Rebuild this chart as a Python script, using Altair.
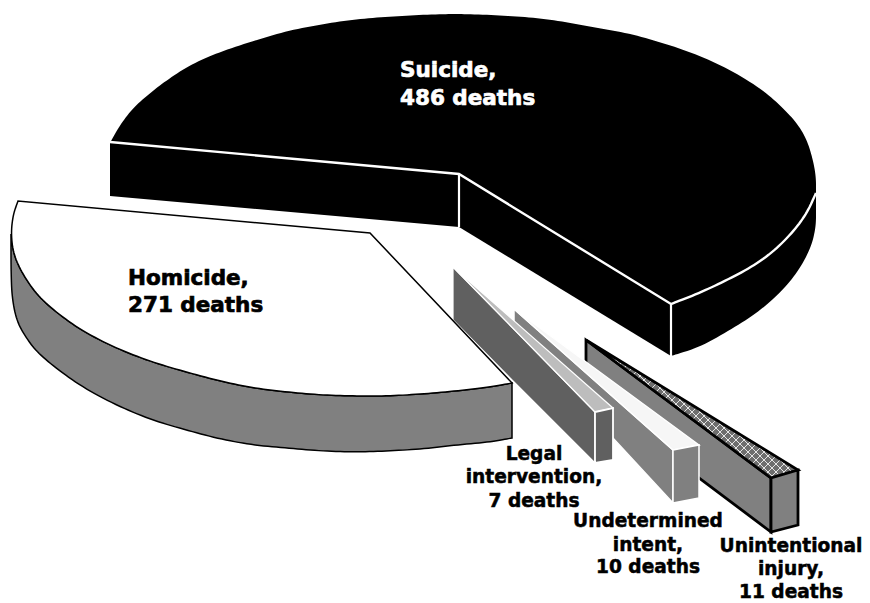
import altair as alt

# Values and labels
causes = ["Suicide", "Homicide", "Legal\nintervention", "Undetermined\nintent", "Unintentional\ninjury"]
deaths = [486, 271, 7, 10, 11]

# Outlines (image pixels)
suicide_rim = [(111,141),(120,125),(133,108),(150,93),(167,80),(190,65),(217,53),(250,42),(283,32),(317,25),(350,20),(383,17),(417,15),(450,14),(460,14),(493,15),(527,17),(560,21),(593,27),(627,33),(660,42),(693,53),(727,68),(760,88),(780,105),(797,123),(807,140),(813,160),(816,177),(816,193)]
suicide_rim_low = [(816,193),(807,213),(793,232),(773,252),(750,268),(723,282),(697,294),(671,304)]
suicide_base = [(816,177),(816,205),(816,228),(810,250),(797,273),(780,293),(757,313),(730,330),(700,347),(671,356)]
suicide_apex = (459,174)
suicide_apex_low = (459,227)
suicide_left = (110,142)
suicide_left_low = (110,196)

homicide_rim = [(18,201),(13,215),(11,234),(13.5,254),(22,273),(37,295),(57,313),(84,332),(118,349),(152,362),(186,372),(220,381),(253,388),(287,392),(321,395),(355,396),(388,396),(422,394),(456,391),(490,387),(512,383)]
homicide_base = [(11,234),(11,270),(12,298),(17,322),(27,339),(37,352),(57,369),(84,388),(118,406),(152,420),(186,430),(220,439),(253,445),(287,448),(321,451),(355,452),(388,451),(422,449),(456,445),(490,442),(512,438)]
homicide_apex = (370,233)

legal_side = [(453,267),(595,412),(595,463),(513,381),(453,320)]
legal_front = [(595,412),(613,408),(613,460),(595,463)]
legal_top = [(453,267),(613,408),(595,412)]

undet_side = [(514,309),(673,450),(673,503),(514,331)]
undet_front = [(673,450),(699,445),(699,498),(673,503)]
undet_top = [(514,309),(699,445),(673,450)]

unint_side = [(586,340),(771,478),(771,532),(586,393)]
unint_front = [(771,478),(798,470),(798,525),(771,532)]
unint_top = [(586,340),(798,470),(771,478)]

suicide_label_xy = (400, 77, 105)
homicide_label_xy = (128, 285, 312)
small_label_xy = [(534, [460, 483, 507]), (648, [527, 551, 573]), (791, [552, 575, 598])]

PROJ = dict(type="identity", scale=1, translate=[-8, -8])


def smooth(pts, n=3):
    pts = [tuple(p) for p in pts]
    for _ in range(n):
        out = [pts[0]]
        for a, b in zip(pts[:-1], pts[1:]):
            out.append((0.75*a[0]+0.25*b[0], 0.75*a[1]+0.25*b[1]))
            out.append((0.25*a[0]+0.75*b[0], 0.25*a[1]+0.75*b[1]))
        out.append(pts[-1])
        pts = out
    return pts


def poly(pts):
    pts = [list(p) for p in pts]
    if pts[0] != pts[-1]:
        pts = pts + [pts[0]]
    return {"type": "Feature", "properties": {}, "geometry": {"type": "Polygon", "coordinates": [pts]}}


def line(pts):
    return {"type": "Feature", "properties": {},
            "geometry": {"type": "LineString", "coordinates": [list(p) for p in pts]}}


def shape(feature, fill=None, stroke=None, sw=1.0):
    kw = {}
    if fill is None:
        kw["filled"] = False
        kw["fill"] = "transparent"
    else:
        kw["fill"] = fill
    if stroke:
        kw["stroke"] = stroke
        kw["strokeWidth"] = sw
    else:
        kw["strokeWidth"] = 0
    return alt.Chart(alt.Data(values=[feature])).mark_geoshape(strokeJoin="miter", **kw).project(**PROJ)


def clip(p0, p1, tri):
    # clip a segment to a convex triangle
    t0, t1 = 0.0, 1.0
    dx, dy = p1[0]-p0[0], p1[1]-p0[1]
    cx = sum(p[0] for p in tri)/3
    cy = sum(p[1] for p in tri)/3
    for i in range(3):
        a, b = tri[i], tri[(i+1) % 3]
        nx, ny = -(b[1]-a[1]), b[0]-a[0]
        if nx*(cx-a[0])+ny*(cy-a[1]) < 0:
            nx, ny = -nx, -ny
        f0 = nx*(p0[0]-a[0])+ny*(p0[1]-a[1])
        d = nx*dx+ny*dy
        if d == 0:
            if f0 < 0:
                return None
            continue
        t = -f0/d
        if d > 0:
            t0 = max(t0, t)
        else:
            t1 = min(t1, t)
    if t0 >= t1:
        return None
    return [(p0[0]+t0*dx, p0[1]+t0*dy), (p0[0]+t1*dx, p0[1]+t1*dy)]


hatch = []
for c in range(-1000, 2000, 8):
    for sgn in (1, -1):
        seg = clip((400, c-sgn*400), (900, c-sgn*900), unint_top)
        if seg:
            hatch.append([list(p) for p in seg])
hatch_f = {"type": "Feature", "properties": {}, "geometry": {"type": "MultiLineString", "coordinates": hatch}}

s_rim = smooth(suicide_rim)
s_low = smooth(suicide_rim_low)
s_base = smooth(suicide_base)
h_rim = smooth(homicide_rim)
h_base = smooth(homicide_base)
# the part of the homicide rim that lies above the outer wall
h_rim_wall = smooth(homicide_rim[2:])

layers = [
    # Suicide
    shape(poly([suicide_left]+s_rim+s_low+[suicide_apex]), fill="black"),
    shape(poly([suicide_left, suicide_apex, suicide_apex_low, suicide_left_low]), fill="black"),
    shape(poly([suicide_apex, suicide_rim_low[-1], suicide_base[-1], suicide_apex_low]), fill="black"),
    shape(poly(s_low+s_base[::-1]), fill="black"),
    shape(line([suicide_left, suicide_apex, suicide_rim_low[-1]]+s_low[::-1]), stroke="white", sw=2.4),
    shape(line([suicide_apex, suicide_apex_low]), stroke="white", sw=2.2),
    shape(line([suicide_rim_low[-1], suicide_base[-1]]), stroke="white", sw=2.2),
    # Unintentional injury
    shape(poly(unint_side), fill="#808080", stroke="black", sw=2.8),
    shape(poly(unint_top), fill="#6e6e6e"),
    shape(hatch_f, stroke="#e6e6e6", sw=1.0),
    shape(poly(unint_top), stroke="black", sw=2.8),
    shape(poly(unint_front), fill="#808080", stroke="black", sw=2.8),
    # Undetermined intent
    shape(poly(undet_side), fill="#808080", stroke="white", sw=1.5),
    shape(poly(undet_top), fill="#f6f6f6", stroke="white", sw=1.5),
    shape(poly(undet_front), fill="#808080", stroke="white", sw=1.5),
    # Legal intervention
    shape(poly(legal_side), fill="#606060", stroke="white", sw=1.2),
    shape(poly(legal_top), fill="#bdbdbd", stroke="white", sw=1.2),
    shape(poly(legal_front), fill="#606060", stroke="white", sw=1.8),
    # Homicide
    shape(poly(h_rim_wall+h_base[::-1]), fill="#808080", stroke="black", sw=1.5),
    shape(poly(h_rim+[homicide_apex]), fill="white", stroke="black", sw=1.5),
]

rows_big = [
    dict(x=suicide_label_xy[0], y=suicide_label_xy[1], t=f"{causes[0]},", c="white"),
    dict(x=suicide_label_xy[0], y=suicide_label_xy[2], t=f"{deaths[0]} deaths", c="white"),
    dict(x=homicide_label_xy[0], y=homicide_label_xy[1], t=f"{causes[1]},", c="black"),
    dict(x=homicide_label_xy[0], y=homicide_label_xy[2], t=f"{deaths[1]} deaths", c="black"),
]
rows_small = []
for (cx, ys), cause, n in zip(small_label_xy, causes[2:], deaths[2:]):
    a, b = cause.split("\n")
    for y, t in zip(ys, [a, b + ",", f"{n} deaths"]):
        rows_small.append(dict(x=cx, y=y, t=t))

big = alt.Chart(alt.Data(values=rows_big)).mark_text(
    font="DejaVu Sans", fontWeight="bold", fontSize=21.5, align="left", baseline="alphabetic", strokeWidth=0.7
).encode(longitude="x:Q", latitude="y:Q", text="t:N",
         color=alt.Color("c:N", scale=None), stroke=alt.Stroke("c:N", scale=None)).project(**PROJ)

small = alt.Chart(alt.Data(values=rows_small)).mark_text(
    font="DejaVu Sans", fontWeight="bold", fontSize=18.6, align="center", baseline="alphabetic",
    color="black", stroke="black", strokeWidth=0.5
).encode(longitude="x:Q", latitude="y:Q", text="t:N").project(**PROJ)

chart = alt.layer(*layers, big, small).properties(
    width=854, height=595, padding=0, background="white"
).configure_view(stroke=None)

chart.save("out.html", embed_options={"renderer": "svg", "actions": False})
